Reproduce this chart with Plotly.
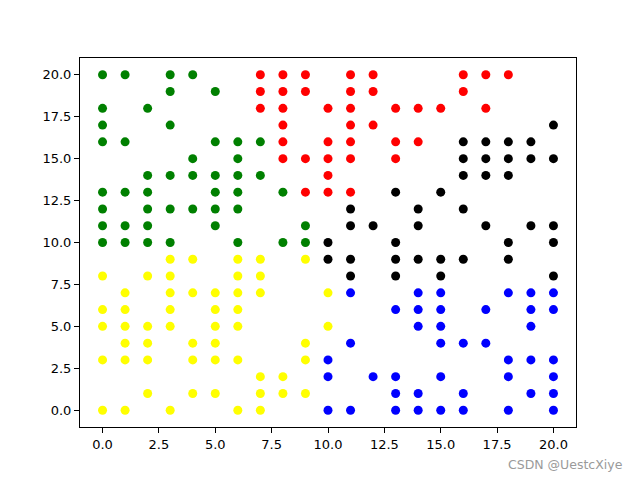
import plotly.graph_objects as go

# Points per cluster, grouped by row: y value -> list of x values
green_rows = {
    20: [0, 1, 3, 4], 19: [3, 5], 18: [0, 2], 17: [0, 3],
    16: [0, 1, 5, 6, 7], 15: [4, 6], 14: [2, 3, 4, 5, 6, 7],
    13: [0, 1, 2, 5, 6, 8], 12: [0, 2, 3, 4, 5, 6],
    11: [0, 1, 2, 5, 9], 10: [0, 1, 2, 3, 6, 8, 9],
}
red_rows = {
    20: [7, 8, 9, 11, 12, 16, 17, 18], 19: [7, 8, 9, 11, 12, 16],
    18: [7, 8, 10, 11, 13, 14, 15, 17], 17: [8, 11, 12],
    16: [8, 10, 11, 13, 14], 15: [8, 9, 10, 11, 13], 14: [10], 13: [9, 10, 11],
}
black_rows = {
    17: [20], 16: [16, 17, 18, 19], 15: [16, 17, 18, 19, 20], 14: [16, 17, 18],
    13: [13, 15], 12: [11, 14, 16], 11: [11, 12, 14, 17, 19, 20],
    10: [10, 13, 18, 20], 9: [10, 11, 13, 14, 15, 16, 18], 8: [11, 13, 15, 20],
}
blue_rows = {
    7: [11, 14, 15, 18, 19, 20], 6: [13, 14, 15, 17, 19, 20], 5: [14, 15, 19],
    4: [11, 15, 16, 17], 3: [10, 18, 19, 20], 2: [10, 12, 13, 15, 18, 20],
    1: [13, 14, 16, 19, 20], 0: [10, 11, 13, 14, 15, 16, 18, 20],
}
yellow_rows = {
    9: [3, 4, 6, 7, 9], 8: [0, 2, 3, 6, 7], 7: [1, 3, 4, 5, 6, 7, 10],
    6: [0, 1, 3, 5, 6], 5: [0, 1, 2, 3, 5, 6, 10], 4: [1, 2, 4, 5, 9],
    3: [0, 1, 2, 4, 5, 6, 9], 2: [7, 8], 1: [2, 4, 5, 7, 8, 9], 0: [0, 1, 3, 6, 7],
}

clusters = [
    (green_rows, "green"),
    (red_rows, "red"),
    (black_rows, "black"),
    (blue_rows, "blue"),
    (yellow_rows, "yellow"),
]

tick_vals = [0, 2.5, 5, 7.5, 10, 12.5, 15, 17.5, 20]


def _unpack(rows):
    xs, ys = [], []
    for y, row in rows.items():
        for x in row:
            xs.append(x)
            ys.append(y)
    return xs, ys


fig = go.Figure()
for rows, color in clusters:
    xs, ys = _unpack(rows)
    fig.add_trace(go.Scatter(
        x=xs, y=ys, mode="markers",
        marker=dict(color=color, size=9, line=dict(width=0)),
        showlegend=False,
    ))

axis_style = dict(
    range=[-1, 21],
    tickvals=tick_vals,
    tickformat=".1f",
    showgrid=False,
    zeroline=False,
    showline=True,
    linecolor="black",
    linewidth=1,
    mirror=True,
    ticks="outside",
    ticklen=5,
    tickwidth=1,
    tickcolor="black",
    tickfont=dict(size=13, color="black"),
)

fig.update_layout(
    width=640,
    height=480,
    margin=dict(l=80, r=64, t=58, b=53),
    plot_bgcolor="white",
    paper_bgcolor="white",
    font=dict(family="DejaVu Sans"),
    xaxis=axis_style,
    yaxis=axis_style,
)

fig.add_annotation(
    text="CSDN @UestcXiye",
    xref="paper", yref="paper",
    x=1.098, y=-0.076, xanchor="right", yanchor="top",
    showarrow=False,
    font=dict(size=12.5, color="#9a9a9a", family="DejaVu Sans"),
)

# drop the browser's default 8px body margin so the figure sits at (0, 0)
fig.write_html(
    "out.html",
    config={"displayModeBar": False},
    post_script="document.body.style.margin = '0';",
)
